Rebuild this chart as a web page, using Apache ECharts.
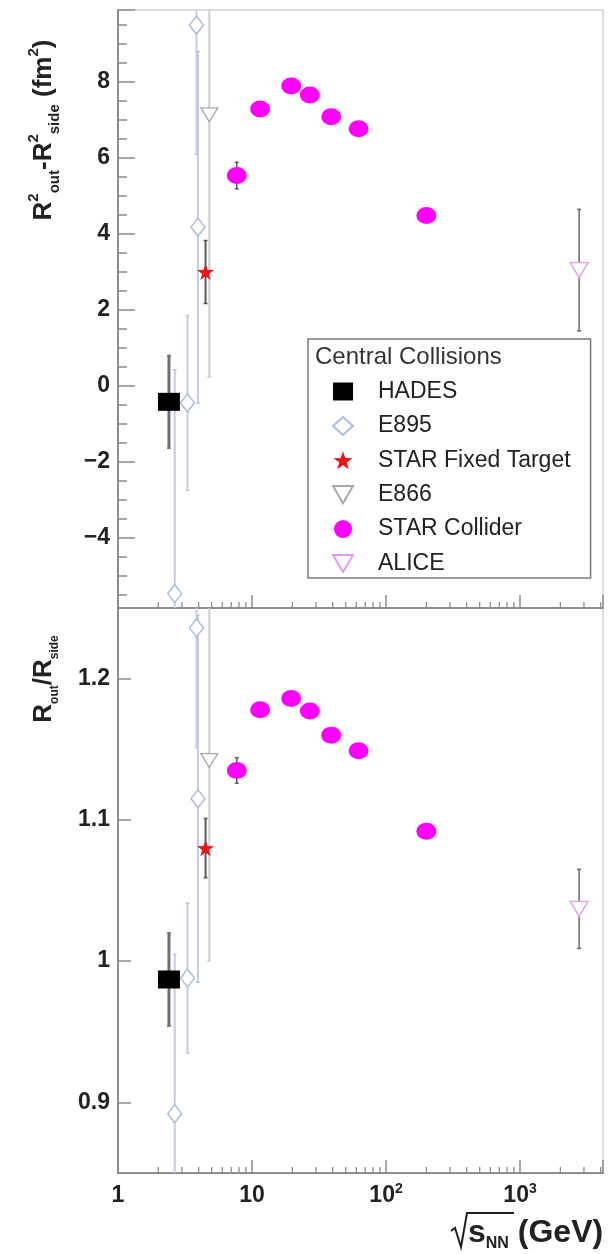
<!DOCTYPE html>
<html><head><meta charset="utf-8">
<script src="https://cdn.jsdelivr.net/npm/echarts@6/dist/echarts.min.js"></script>
<style>html,body{margin:0;padding:0;background:#fff}#c{width:608px;height:1254px}</style>
</head><body><div id="c"></div><script>
// ---- data ----
const hadesX = [2.4];
const e895X = [2.65, 3.3, 3.85, 3.95];
const starFxtX = [4.5];
const e866X = [4.8];
const starColX = [7.7, 11.5, 19.6, 27, 39, 62.4, 200];
const aliceX = [2760];

// top panel: R_out^2 - R_side^2 (fm^2)
const hadesDR2 = [-0.42];          const hadesDR2Err = [1.22];
const e895DR2 = [-5.47, -0.45, 9.5, 4.18]; const e895DR2Err = [5.9, 2.3, 3.4, 4.63];
const starFxtDR2 = [3.0];          const starFxtDR2Err = [0.83];
const e866DR2 = [7.14];            const e866DR2Err = [6.9];
const starColDR2 = [5.54, 7.29, 7.9, 7.66, 7.09, 6.77, 4.49];
const starColDR2Err = [0.35, 0.1, 0.1, 0.1, 0.1, 0.1, 0.1];
const aliceDR2 = [3.05];           const aliceDR2Err = [1.6];

// bottom panel: R_out / R_side
const hadesRat = [0.987];          const hadesRatErr = [0.033];
const e895Rat = [0.892, 0.988, 1.236, 1.115]; const e895RatErr = [0.113, 0.053, 0.085, 0.13];
const starFxtRat = [1.08];         const starFxtRatErr = [0.021];
const e866Rat = [1.142];           const e866RatErr = [0.142];
const starColRat = [1.135, 1.178, 1.186, 1.177, 1.16, 1.149, 1.092];
const starColRatErr = [0.009, 0.003, 0.003, 0.003, 0.003, 0.003, 0.003];
const aliceRat = [1.037];          const aliceRatErr = [0.028];

const minorTicksX = [2,3,4,5,6,7,8,9,20,30,40,50,60,70,80,90,200,300,400,500,600,700,800,900,2000,3000,4000];

const X_RANGE = [1, 4160];
const TOP_RANGE = [-5.85, 9.9];
const BOT_RANGE = [0.85, 1.25];

// ---- styles ----
const FONT = 'Liberation Sans, Arial, Helvetica, sans-serif';
const AX = '#8c8c8c';
const starPath = 'path://M50 0 L61.76 33.82 L97.55 34.55 L69.02 56.18 L79.39 90.45 L50 70 L20.61 90.45 L30.98 56.18 L2.45 34.55 L38.24 33.82 Z';
const triDownPath = 'path://M0 0 L100 0 L50 86 Z';

const experiments = [
  {name:'HADES', x:hadesX, top:[hadesDR2, hadesDR2Err], bot:[hadesRat, hadesRatErr],
   symbol:'rect', size:[22,18], item:{color:'#000'}, err:['#707070', 3]},
  {name:'E895', x:e895X, top:[e895DR2, e895DR2Err], bot:[e895Rat, e895RatErr],
   symbol:'diamond', size:[14,18], item:{color:'#fff', borderColor:'#a9bde3', borderWidth:1.5}, err:['#c3cbe6', 2]},
  {name:'STAR Fixed Target', x:starFxtX, top:[starFxtDR2, starFxtDR2Err], bot:[starFxtRat, starFxtRatErr],
   symbol:starPath, size:[17,16], item:{color:'#e8141c'}, err:['#5a5a5a', 2]},
  {name:'E866', x:e866X, top:[e866DR2, e866DR2Err], bot:[e866Rat, e866RatErr],
   symbol:triDownPath, size:[17,14], item:{color:'#fff', borderColor:'#a8a8a8', borderWidth:1.3}, err:['#cfcfcf', 2]},
  {name:'STAR Collider', x:starColX, top:[starColDR2, starColDR2Err], bot:[starColRat, starColRatErr],
   symbol:'circle', size:[20,17], item:{color:'#ff00ff'}, err:['#5a5a5a', 1.5]},
  {name:'ALICE', x:aliceX, top:[aliceDR2, aliceDR2Err], bot:[aliceRat, aliceRatErr],
   symbol:triDownPath, size:[18,15], item:{color:'#fff', borderColor:'#e49cf0', borderWidth:1.3}, err:['#6a6a6a', 1.5]}
];

function errRender(color, width) {
  return function (params, api) {
    const x = api.value(0), y = api.value(1), e = api.value(2);
    const lo = api.coord([x, y - e]), hi = api.coord([x, y + e]);
    const cs = params.coordSys;
    const top = cs.y, bot = cs.y + cs.height;
    const clamp = v => Math.max(top, Math.min(bot, v));
    const y1 = clamp(lo[1]), y2 = clamp(hi[1]);
    const children = [{type:'line', shape:{x1:lo[0], y1:y1, x2:lo[0], y2:y2}, style:{stroke:color, lineWidth:width}}];
    if (lo[1] <= bot && lo[1] >= top) children.push({type:'line', shape:{x1:lo[0]-2, y1:lo[1], x2:lo[0]+2, y2:lo[1]}, style:{stroke:color, lineWidth:1.5}});
    if (hi[1] <= bot && hi[1] >= top) children.push({type:'line', shape:{x1:hi[0]-2, y1:hi[1], x2:hi[0]+2, y2:hi[1]}, style:{stroke:color, lineWidth:1.5}});
    return {type:'group', children};
  };
}

const series = [];
[0, 1].forEach(g => {
  experiments.forEach(ex => {
    const [vals, errs] = g === 0 ? ex.top : ex.bot;
    series.push({
      type:'custom', xAxisIndex:g, yAxisIndex:g, silent:true, z:2,
      renderItem: errRender(ex.err[0], ex.err[1]),
      encode:{x:0, y:1},
      data: ex.x.map((x, i) => [x, vals[i], errs[i]])
    });
  });
  experiments.forEach(ex => {
    const [vals] = g === 0 ? ex.top : ex.bot;
    series.push({
      type:'scatter', name:ex.name, xAxisIndex:g, yAxisIndex:g, z:3,
      symbol:ex.symbol, symbolSize:ex.size,
      itemStyle:Object.assign({opacity:1}, ex.item), silent:true,
      data: ex.x.map((x, i) => [x, vals[i]])
    });
  });
  const yMin = g === 0 ? TOP_RANGE[0] : BOT_RANGE[0];
  series.push({
    type:'custom', xAxisIndex:g, yAxisIndex:g, silent:true, z:4,
    encode:{x:0, y:1},
    data: minorTicksX.map(v => [v, yMin]),
    renderItem: function (params, api) {
      const cs = params.coordSys;
      const px = api.coord([api.value(0), api.value(1)])[0];
      const yb = cs.y + cs.height;
      return {type:'line', shape:{x1:px, y1:yb, x2:px, y2:yb - 6}, style:{stroke:AX, lineWidth:1.3}};
    }
  });
});

function xLabel(v) {
  const l = Math.log10(v), p = Math.round(l);
  if (Math.abs(l - p) > 1e-6) return '';
  if (p === 0) return '1';
  if (p === 1) return '10';
  return '10{sup|' + p + '}';
}
function topLabel(v) {
  if (Math.abs(v / 2 - Math.round(v / 2)) > 1e-6) return '';
  const r = Math.round(v);
  return r < 0 ? '\u2212' + (-r) : String(r);
}
function botLabel(v) {
  if (Math.abs(v * 10 - Math.round(v * 10)) > 1e-6) return '';
  return String(Math.round(v * 10) / 10);
}

const xAxisBase = (g, showLabels) => ({
  type:'log', logBase:10, gridIndex:g, min:X_RANGE[0], max:X_RANGE[1],
  axisLine:{show:true, onZero:false, lineStyle:{color:AX, width:2}},
  axisTick:{show:true, inside:true, length:13, lineStyle:{color:AX, width:1.5}},
  splitLine:{show:false}, minorTick:{show:false},
  axisLabel:{show:showLabels, formatter:xLabel, color:'#222', fontSize:23, fontWeight:'bold', fontFamily:FONT,
    margin:9, lineHeight:28, rich:{sup:{fontSize:14, fontWeight:'bold', fontFamily:FONT, color:'#222', verticalAlign:'top', lineHeight:14}}}
});

const option = {
  animation:false,
  backgroundColor:'#fff',
  textStyle:{fontFamily:FONT},
  grid:[
    {left:118, right:5, top:10, height:598, show:true, borderColor:'#d0d0d0', borderWidth:1.5, backgroundColor:'transparent'},
    {left:118, right:5, top:608, height:565, show:true, borderColor:'#d0d0d0', borderWidth:1.5, backgroundColor:'transparent'}
  ],
  xAxis:[xAxisBase(0, false), xAxisBase(1, true)],
  yAxis:[
    {type:'value', gridIndex:0, min:TOP_RANGE[0], max:TOP_RANGE[1], splitNumber:8,
     axisLine:{show:true, lineStyle:{color:AX, width:2}},
     axisTick:{show:true, inside:true, length:17, lineStyle:{color:AX, width:1.5}},
     minorTick:{show:true, splitNumber:4, length:9, lineStyle:{color:AX, width:1.5}},
     splitLine:{show:false},
     axisLabel:{formatter:topLabel, color:'#222', fontSize:23, fontWeight:'bold', fontFamily:FONT, margin:8}},
    {type:'value', gridIndex:1, min:BOT_RANGE[0], max:BOT_RANGE[1], splitNumber:4,
     axisLine:{show:true, lineStyle:{color:AX, width:2}},
     axisTick:{show:true, inside:true, length:13, lineStyle:{color:AX, width:1.5}},
     minorTick:{show:false}, splitLine:{show:false},
     axisLabel:{formatter:botLabel, color:'#222', fontSize:23, fontWeight:'bold', fontFamily:FONT, margin:8}}
  ],
  legend:{
    show:true, orient:'vertical', left:308, top:339,
    padding:[41, 20, 3, 24], itemWidth:20, itemHeight:18, itemGap:11.4,
    borderColor:'#7a7a7a', borderWidth:1.5, backgroundColor:'#fff', selectedMode:false,
    textStyle:{fontSize:23, color:'#222', fontFamily:FONT, lineHeight:18, padding:[0, 0, 0, 20]},
    data:['HADES', 'E895', 'STAR Fixed Target', 'E866', 'STAR Collider', 'ALICE']
  },
  graphic:[
    {type:'text', z:100, x:315, y:357, style:{text:'Central Collisions', fontSize:24, fontFamily:FONT, fill:'#333', align:'left', verticalAlign:'middle'}},
    {type:'text', z:100, x:44, y:130, rotation:Math.PI/2, style:{
      text:'{m|R}{sp|2}{sb|out}{m|-R}{sp|2}{sb|side}{m| (fm}{sp|2}{m|)}',
      align:'center', verticalAlign:'middle', fill:'#222', fontFamily:FONT,
      rich:{m:{fontSize:26, fontWeight:'bold', fontFamily:FONT, fill:'#222', lineHeight:36, verticalAlign:'middle'},
            sp:{fontSize:15, fontWeight:'bold', fontFamily:FONT, fill:'#222', lineHeight:15, verticalAlign:'top'},
            sb:{fontSize:15, fontWeight:'bold', fontFamily:FONT, fill:'#222', lineHeight:15, verticalAlign:'bottom'}}}},
    {type:'text', z:100, x:44, y:679, rotation:Math.PI/2, style:{
      text:'{m|R}{sb|out}{m|/R}{sb|side}',
      align:'center', verticalAlign:'middle', fill:'#222', fontFamily:FONT,
      rich:{m:{fontSize:26, fontWeight:'bold', fontFamily:FONT, fill:'#222', lineHeight:34, verticalAlign:'middle'},
            sb:{fontSize:12, fontWeight:'bold', fontFamily:FONT, fill:'#222', lineHeight:12, verticalAlign:'bottom'}}}},
    {type:'polyline', z:100, shape:{points:[[451,1231],[455,1228],[461,1247],[467,1213],[514,1213]]}, style:{stroke:'#222', lineWidth:2, fill:null}},
    {type:'text', z:100, x:468, y:1233, style:{
      text:'{s|s}{sb|NN}{m| (GeV)}', align:'left', verticalAlign:'middle', fill:'#222', fontFamily:FONT,
      rich:{s:{fontSize:32, fontWeight:'bold', fontFamily:FONT, fill:'#222', lineHeight:38, verticalAlign:'middle'},
            sb:{fontSize:16, fontWeight:'bold', fontFamily:FONT, fill:'#222', lineHeight:16, verticalAlign:'bottom'},
            m:{fontSize:32, fontWeight:'bold', fontFamily:FONT, fill:'#222', lineHeight:38, verticalAlign:'middle'}}}}
  ],
  series:series
};

const chart = echarts.init(document.getElementById('c'), null, {renderer:'canvas'});
chart.setOption(option);
</script></body></html>
